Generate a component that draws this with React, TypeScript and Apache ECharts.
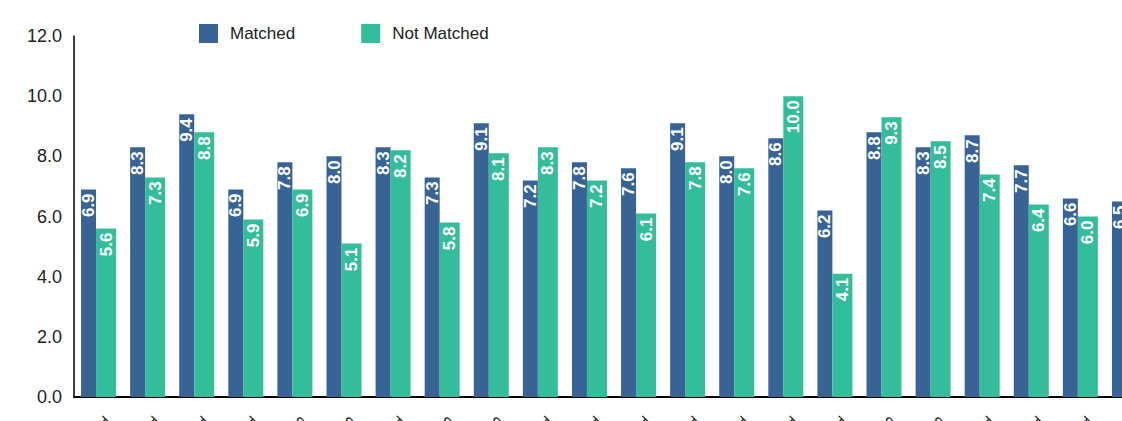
import React, { useEffect, useRef } from "react";
import * as echarts from "echarts";

const categories = [
  "Team 01", "Team 02", "Team 03", "Team 04", "Squad 05", "Squad 06",
  "Team 07", "Squad 08", "Squad 09", "Team 10", "Team 11", "Team 12",
  "Team 13", "Team 14", "Team 15", "Team 16", "Squad 17", "Squad 18",
  "Team 19", "Team 20", "Team 21", "Team 22",
];
const matched = [6.9, 8.3, 9.4, 6.9, 7.8, 8.0, 8.3, 7.3, 9.1, 7.2, 7.8, 7.6, 9.1, 8.0, 8.6, 6.2, 8.8, 8.3, 8.7, 7.7, 6.6, 6.5];
const notMatched = [5.6, 7.3, 8.8, 5.9, 6.9, 5.1, 8.2, 5.8, 8.1, 8.3, 7.2, 6.1, 7.8, 7.6, 10.0, 4.1, 9.3, 8.5, 7.4, 6.4, 6.0, 5.8];
const seriesNames = ["Matched", "Not Matched"];
const yTicks = { min: 0, max: 12, interval: 2 };

const BLUE = "#386395";
const GREEN = "#33bd9a";
const FONT = "'Liberation Sans', Arial, Helvetica, sans-serif";

const barLabel = {
  show: true,
  position: "insideTop" as const,
  rotate: 90,
  align: "right" as const,
  verticalAlign: "middle" as const,
  distance: 4,
  color: "#ffffff",
  fontWeight: "bold" as const,
  fontSize: 17,
  fontFamily: FONT,
  formatter: (p: any) => Number(p.value).toFixed(1),
};

export default function App() {
  const ref = useRef<HTMLDivElement>(null);
  useEffect(() => {
    if (!ref.current) return;
    const chart = echarts.init(ref.current, undefined, { renderer: "svg" });
    chart.setOption({
      animation: false,
      backgroundColor: "#ffffff",
      textStyle: { fontFamily: FONT },
      legend: {
        left: 194,
        top: 19,
        itemWidth: 19,
        itemHeight: 19,
        itemGap: 66,
        icon: "rect",
        textStyle: { fontSize: 17, color: "#222", fontFamily: FONT, padding: [0, 0, 0, 7] },
        data: seriesNames,
      },
      grid: { left: 74, top: 36, width: 1080, height: 361 },
      xAxis: {
        type: "category",
        data: categories,
        axisLine: { show: true, lineStyle: { color: "#000", width: 2 } },
        axisTick: { show: false },
        axisLabel: { rotate: -45, fontSize: 16, color: "#222", margin: 22, fontFamily: FONT, interval: 0 },
      },
      yAxis: {
        type: "value",
        min: yTicks.min,
        max: yTicks.max,
        interval: yTicks.interval,
        axisLine: { show: true, lineStyle: { color: "#000", width: 1.5 } },
        axisTick: { show: false },
        splitLine: { show: false },
        axisLabel: {
          fontSize: 18,
          color: "#222",
          margin: 12,
          fontFamily: FONT,
          formatter: (v: number) => v.toFixed(1),
        },
      },
      series: [
        {
          name: seriesNames[0],
          type: "bar",
          data: matched,
          barWidth: 15,
          barGap: "0%",
          itemStyle: { color: BLUE },
          label: barLabel,
        },
        {
          name: seriesNames[1],
          type: "bar",
          data: notMatched,
          barWidth: 20,
          barGap: "0%",
          itemStyle: { color: GREEN },
          label: barLabel,
        },
      ],
    });
    return () => chart.dispose();
  }, []);
  return (
    <div style={{ position: "absolute", left: 0, top: 0, width: 1122, height: 421, overflow: "hidden", background: "#fff" }}>
      <div ref={ref} style={{ width: 1200, height: 500 }} />
    </div>
  );
}
